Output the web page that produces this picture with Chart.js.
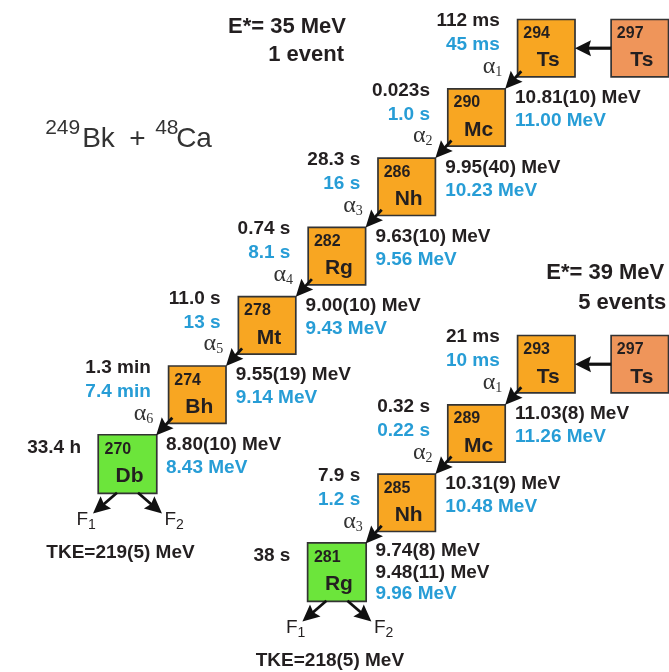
<!DOCTYPE html>
<html>
<head>
<meta charset="utf-8">
<script src="https://cdn.jsdelivr.net/npm/chart.js@4.4.0/dist/chart.umd.min.js"></script>
<style>
  html, body { margin: 0; padding: 0; background: #fff; }
  canvas { display: block; }
</style>
</head>
<body>
<canvas id="decay-chart" width="669" height="672"></canvas>
<script>
// Reaction 249Bk + 48Ca -> 297Ts (compound nucleus), two decay chains

var compoundMass = 297;
var compoundSymbol = 'Ts';

// E* = 35 MeV, 1 event
var chainAHeader = ['E*= 35 MeV', '1 event'];
var chainAMass = [294, 290, 286, 282, 278, 274, 270];
var chainASymbol = ['Ts', 'Mc', 'Nh', 'Rg', 'Mt', 'Bh', 'Db'];
var chainAHalfExp = ['112 ms', '0.023s', '28.3 s', '0.74 s', '11.0 s', '1.3 min', '33.4 h'];
var chainAHalfCalc = ['45 ms', '1.0 s', '16 s', '8.1 s', '13 s', '7.4 min', ''];
var chainAAlphaExp = [['10.81(10) MeV'], ['9.95(40) MeV'], ['9.63(10) MeV'], ['9.00(10) MeV'], ['9.55(19) MeV'], ['8.80(10) MeV']];
var chainAAlphaCalc = ['11.00 MeV', '10.23 MeV', '9.56 MeV', '9.43 MeV', '9.14 MeV', '8.43 MeV'];
var chainATKE = 'TKE=219(5) MeV';

// E* = 39 MeV, 5 events
var chainBHeader = ['E*= 39 MeV', '5 events'];
var chainBMass = [293, 289, 285, 281];
var chainBSymbol = ['Ts', 'Mc', 'Nh', 'Rg'];
var chainBHalfExp = ['21 ms', '0.32 s', '7.9 s', '38 s'];
var chainBHalfCalc = ['10 ms', '0.22 s', '1.2 s', ''];
var chainBAlphaExp = [['11.03(8) MeV'], ['10.31(9) MeV'], ['9.74(8) MeV', '9.48(11) MeV']];
var chainBAlphaCalc = ['11.26 MeV', '10.48 MeV', '9.96 MeV'];
var chainBTKE = 'TKE=218(5) MeV';

var INK = '#231f20';
var BLUE = '#279dd6';
var SANS = '"Liberation Sans", Arial, sans-serif';
var SERIF = '"Liberation Serif", "Times New Roman", serif';

// grid layout: each alpha decay is one step left and one step down
function chainPoints(masses, topRow) {
    return masses.map(function (m, i) {
        return { x: 6 - i, y: topRow - i };
    });
}

var chainA = {
    pts: chainPoints(chainAMass, 6), mass: chainAMass, symbol: chainASymbol,
    halfExp: chainAHalfExp, halfCalc: chainAHalfCalc,
    alphaExp: chainAAlphaExp, alphaCalc: chainAAlphaCalc, tke: chainATKE
};
var chainB = {
    pts: chainPoints(chainBMass, 1.44), mass: chainBMass, symbol: chainBSymbol,
    halfExp: chainBHalfExp, halfCalc: chainBHalfCalc,
    alphaExp: chainBAlphaExp, alphaCalc: chainBAlphaCalc, tke: chainBTKE
};
var compoundPts = [{ x: 7.34, y: 6 }, { x: 7.34, y: 1.44 }];

var BOX = 28.7; // half size of a box in px

function txt(ctx, s, x, y, font, color, align) {
    ctx.font = font;
    ctx.fillStyle = color;
    ctx.textAlign = align || 'left';
    ctx.textBaseline = 'middle';
    ctx.fillText(s, x, y);
}

function arrow(ctx, x1, y1, x2, y2, lw, len, wid) {
    var a = Math.atan2(y2 - y1, x2 - x1);
    ctx.save();
    ctx.strokeStyle = '#111';
    ctx.fillStyle = '#111';
    ctx.lineWidth = lw;
    ctx.beginPath();
    ctx.moveTo(x1, y1);
    ctx.lineTo(x2 - Math.cos(a) * len * 0.7, y2 - Math.sin(a) * len * 0.7);
    ctx.stroke();
    ctx.translate(x2, y2);
    ctx.rotate(a);
    ctx.beginPath();
    ctx.moveTo(0, 0);
    ctx.lineTo(-len, -wid / 2);
    ctx.lineTo(-len * 0.85, 0);
    ctx.lineTo(-len, wid / 2);
    ctx.closePath();
    ctx.fill();
    ctx.restore();
}

function withSub(ctx, base, sub, x, baseY, font, subFont, subDy, color) {
    ctx.fillStyle = color;
    ctx.textAlign = 'left';
    ctx.textBaseline = 'alphabetic';
    ctx.font = font;
    ctx.fillText(base, x, baseY);
    var w = ctx.measureText(base).width;
    ctx.font = subFont;
    ctx.fillText(sub, x + w, baseY + subDy);
}

function boxText(ctx, mass, sym, p) {
    txt(ctx, String(mass), p.x - 23, p.y - 14.5, 'bold 16px ' + SANS, INK);
    txt(ctx, sym, p.x + 2, p.y + 12.5, 'bold 21px ' + SANS, INK, 'center');
}

function drawChain(chart, ch) {
    var ctx = chart.ctx;
    var sx = chart.scales.x, sy = chart.scales.y;
    var P = ch.pts.map(function (q) {
        return { x: sx.getPixelForValue(q.x), y: sy.getPixelForValue(q.y) };
    });
    var last = P.length - 1;

    P.forEach(function (p, i) {
        boxText(ctx, ch.mass[i], ch.symbol[i], p);
        // half-lives: measured (black) and calculated (blue)
        if (ch.halfCalc[i]) {
            txt(ctx, ch.halfExp[i], p.x - 46.5, p.y - 27, 'bold 19px ' + SANS, INK, 'right');
            txt(ctx, ch.halfCalc[i], p.x - 46.5, p.y - 3, 'bold 19px ' + SANS, BLUE, 'right');
        } else {
            txt(ctx, ch.halfExp[i], p.x - 46.5, p.y - 16.5, 'bold 19px ' + SANS, INK, 'right');
        }
        if (i < last) {
            var q = P[i + 1];
            arrow(ctx, p.x - 25, p.y + 23, q.x + BOX, q.y - BOX, 2.8, 17, 16);
            withSub(ctx, '\u03b1', String(i + 1), p.x - 63.5, p.y + 25, '24px ' + SERIF, '14px ' + SERIF, 3, '#333');
            // alpha energies next to the daughter
            var lines = ch.alphaExp[i];
            var gap = lines.length > 1 ? 21.5 : 23;
            var y0 = lines.length > 1 ? q.y - 21 : q.y - 19.5;
            lines.forEach(function (s, k) {
                txt(ctx, s, q.x + 38.5, y0 + k * gap, 'bold 19px ' + SANS, INK);
            });
            txt(ctx, ch.alphaCalc[i], q.x + 38.5, y0 + lines.length * gap, 'bold 19px ' + SANS, BLUE);
        }
    });

    // spontaneous fission of the last member
    var e = P[last];
    arrow(ctx, e.x - 10.5, e.y + BOX, e.x - 34.5, e.y + 49.5, 2.8, 17, 16);
    arrow(ctx, e.x + 10.5, e.y + BOX, e.x + 34.5, e.y + 49.5, 2.8, 17, 16);
    withSub(ctx, 'F', '1', e.x - 51, e.y + 60.5, '19px ' + SANS, '14px ' + SANS, 4, INK);
    withSub(ctx, 'F', '2', e.x + 37, e.y + 60.5, '19px ' + SANS, '14px ' + SANS, 4, INK);
    txt(ctx, ch.tke, e.x - 7, e.y + 88.5, 'bold 19px ' + SANS, INK, 'center');
}

var decayLabels = {
    id: 'decayLabels',
    afterDatasetsDraw: function (chart) {
        var ctx = chart.ctx;
        var sx = chart.scales.x, sy = chart.scales.y;
        ctx.save();

        // compound nucleus and neutron evaporation arrows
        [chainA, chainB].forEach(function (ch, k) {
            var c = { x: sx.getPixelForValue(compoundPts[k].x), y: sy.getPixelForValue(compoundPts[k].y) };
            var f = { x: sx.getPixelForValue(ch.pts[0].x), y: sy.getPixelForValue(ch.pts[0].y) };
            boxText(ctx, compoundMass, compoundSymbol, c);
            arrow(ctx, c.x - BOX, c.y, f.x + BOX, f.y, 3.2, 16, 16);
        });

        drawChain(chart, chainA);
        drawChain(chart, chainB);

        // headers
        var hA = { x: sx.getPixelForValue(3.13), y: sy.getPixelForValue(6.3) };
        txt(ctx, chainAHeader[0], hA.x, hA.y, 'bold 22px ' + SANS, INK, 'right');
        txt(ctx, chainAHeader[1], hA.x - 2, hA.y + 28, 'bold 22px ' + SANS, INK, 'right');
        var hB = { x: sx.getPixelForValue(7.69), y: sy.getPixelForValue(2.76) };
        txt(ctx, chainBHeader[0], hB.x, hB.y, 'bold 22px ' + SANS, INK, 'right');
        txt(ctx, chainBHeader[1], hB.x + 2, hB.y + 30, 'bold 22px ' + SANS, INK, 'right');

        // reaction
        var r = { x: sx.getPixelForValue(-1.18), y: sy.getPixelForValue(4.574) };
        ctx.fillStyle = '#333';
        ctx.textAlign = 'left';
        ctx.textBaseline = 'alphabetic';
        ctx.font = '21px ' + SANS;
        ctx.fillText('249', r.x, r.y - 13);
        ctx.font = '28px ' + SANS;
        ctx.fillText('Bk', r.x + 37, r.y);
        ctx.fillText('+', r.x + 84, r.y);
        ctx.font = '21px ' + SANS;
        ctx.fillText('48', r.x + 110, r.y - 13);
        ctx.font = '28px ' + SANS;
        ctx.fillText('Ca', r.x + 131, r.y);

        ctx.restore();
    }
};

var lastA = chainA.pts.length - 1, lastB = chainB.pts.length - 1;

var ctx = document.getElementById('decay-chart');
var config = {
    type: 'scatter',
    data: {
        datasets: [{
            label: 'alpha emitters',
            data: chainA.pts.slice(0, lastA).concat(chainB.pts.slice(0, lastB)),
            pointStyle: 'rect',
            pointRadius: 40.6,
            backgroundColor: '#f8a622',
            borderColor: '#333333',
            borderWidth: 1.7
        }, {
            label: 'fissioning',
            data: [chainA.pts[lastA], chainB.pts[lastB]],
            pointStyle: 'rect',
            pointRadius: 41.4,
            backgroundColor: '#6ce53b',
            borderColor: '#333333',
            borderWidth: 1.7
        }, {
            label: 'compound',
            data: compoundPts,
            pointStyle: 'rect',
            pointRadius: 40.6,
            backgroundColor: '#ef955a',
            borderColor: '#333333',
            borderWidth: 1.7
        }]
    },
    options: {
        responsive: false,
        animation: false,
        events: [],
        layout: { padding: 0, autoPadding: false },
        plugins: { legend: { display: false }, tooltip: { enabled: false } },
        scales: {
            x: { type: 'linear', display: false, min: -1.8266, max: 7.7579 },
            y: { type: 'linear', display: false, min: -3.0014, max: 6.6955 }
        }
    },
    plugins: [decayLabels]
};

var decayChart = new Chart(ctx, config);
</script>
</body>
</html>
